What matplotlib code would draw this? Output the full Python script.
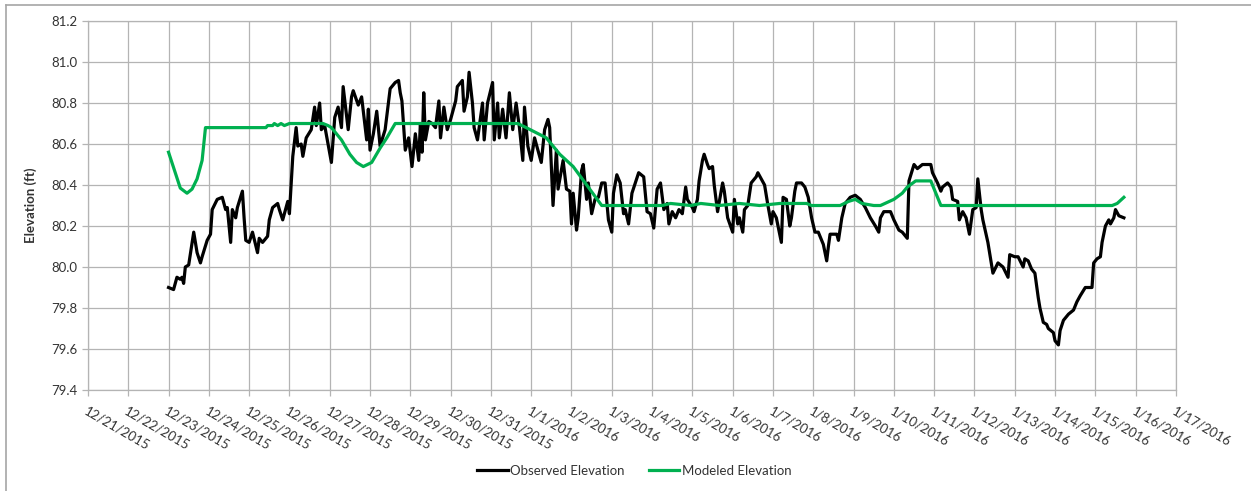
import numpy as np
import pandas as pd
import matplotlib
matplotlib.use("Agg")
import matplotlib.pyplot as plt
import matplotlib.dates as mdates
from matplotlib.ticker import FuncFormatter, MultipleLocator
from matplotlib.lines import Line2D

plt.rcParams['font.family'] = ['Lato', 'Liberation Sans', 'DejaVu Sans']

# hours after 12/23/2015 00:00
start = pd.Timestamp('2015-12-23 00:00')

obs_hours = [0, 3, 5, 7, 8, 9, 10, 12, 15, 17, 19, 20, 23, 25, 26, 29, 32, 34, 35, 37,
             38, 40, 41, 44, 45, 46, 48, 50, 53, 54, 56, 59, 60, 62, 65, 66, 68, 71, 72, 74,
             76, 77, 79, 80, 82, 85, 87, 88, 90, 91, 93, 95, 97, 99, 101, 103, 104, 107, 109, 110,
             113, 115, 118, 119, 120, 122, 124, 126, 129, 132, 135, 137, 138, 139, 141, 143, 145, 147, 149, 150,
             151, 152, 153, 155, 157, 159, 161, 162, 164, 166, 168, 171, 172, 175, 176, 178, 179, 181, 182, 184,
             187, 188, 190, 193, 194, 196, 197, 199, 201, 203, 205, 207, 209, 211, 212, 214, 216, 218, 220, 222,
             224, 226, 227, 229, 231, 232, 235, 237, 239, 240, 241, 243, 244, 246, 247, 249, 250, 252, 254, 256,
             258, 260, 262, 264, 265, 267, 269, 271, 272, 274, 276, 278, 280, 283, 285, 287, 289, 291, 293, 295,
             297, 298, 300, 302, 304, 306, 308, 309, 312, 313, 315, 316, 318, 319, 321, 322, 324, 325, 327, 330,
             331, 333, 336, 337, 339, 340, 342, 343, 345, 347, 350, 351, 353, 355, 357, 359, 360, 362, 365, 366,
             368, 370, 371, 373, 374, 377, 379, 381, 383, 385, 387, 389, 390, 392, 393, 394, 398, 399, 401, 403,
             406, 409, 412, 415, 418, 421, 423, 424, 426, 430, 432, 435, 437, 440, 441, 444, 446, 449, 454, 455,
             458, 460, 461, 464, 466, 467, 470, 471, 473, 475, 477, 479, 481, 482, 484, 485, 488, 491, 494, 497,
             500, 501, 504, 506, 509, 510, 512, 514, 516, 518, 519, 521, 523, 524, 527, 528, 530, 531, 533, 536,
             539, 541, 543, 546, 549, 550, 551, 553, 555, 556, 558, 560, 561, 563, 564, 566, 569]
obs_elev = [79.90, 79.89, 79.95, 79.94, 79.95, 79.92, 80.00, 80.01, 80.17, 80.07, 80.02, 80.05, 80.13, 80.16, 80.28, 80.33, 80.34, 80.28, 80.29, 80.12,
            80.28, 80.24, 80.29, 80.37, 80.24, 80.13, 80.12, 80.17, 80.07, 80.14, 80.12, 80.15, 80.23, 80.29, 80.31, 80.28, 80.23, 80.32, 80.26, 80.54,
            80.68, 80.59, 80.60, 80.54, 80.63, 80.67, 80.78, 80.69, 80.80, 80.67, 80.69, 80.60, 80.51, 80.73, 80.78, 80.68, 80.88, 80.67, 80.83, 80.86,
            80.79, 80.83, 80.62, 80.77, 80.57, 80.65, 80.76, 80.59, 80.67, 80.87, 80.90, 80.91, 80.85, 80.81, 80.57, 80.63, 80.49, 80.65, 80.52, 80.70,
            80.56, 80.85, 80.62, 80.71, 80.70, 80.68, 80.81, 80.63, 80.78, 80.67, 80.72, 80.81, 80.88, 80.91, 80.76, 80.83, 80.95, 80.80, 80.68, 80.62,
            80.80, 80.62, 80.80, 80.90, 80.62, 80.80, 80.63, 80.77, 80.63, 80.85, 80.67, 80.80, 80.68, 80.52, 80.78, 80.59, 80.52, 80.63, 80.57, 80.51,
            80.67, 80.72, 80.68, 80.30, 80.57, 80.38, 80.52, 80.38, 80.37, 80.21, 80.36, 80.18, 80.24, 80.47, 80.50, 80.33, 80.41, 80.26, 80.33, 80.34,
            80.41, 80.41, 80.23, 80.17, 80.36, 80.45, 80.41, 80.26, 80.28, 80.21, 80.36, 80.41, 80.46, 80.44, 80.27, 80.26, 80.19, 80.38, 80.41, 80.28,
            80.31, 80.21, 80.27, 80.24, 80.28, 80.26, 80.39, 80.33, 80.29, 80.27, 80.33, 80.42, 80.52, 80.55, 80.50, 80.48, 80.49, 80.40, 80.27, 80.41,
            80.37, 80.24, 80.17, 80.33, 80.21, 80.24, 80.17, 80.28, 80.30, 80.41, 80.44, 80.46, 80.43, 80.40, 80.30, 80.21, 80.27, 80.24, 80.12, 80.34,
            80.33, 80.20, 80.24, 80.37, 80.41, 80.41, 80.39, 80.34, 80.24, 80.17, 80.17, 80.13, 80.11, 80.03, 80.10, 80.16, 80.16, 80.13, 80.24, 80.31,
            80.34, 80.35, 80.33, 80.29, 80.24, 80.20, 80.17, 80.24, 80.27, 80.27, 80.23, 80.18, 80.17, 80.14, 80.42, 80.50, 80.48, 80.50, 80.50, 80.46,
            80.41, 80.37, 80.39, 80.41, 80.39, 80.33, 80.32, 80.23, 80.27, 80.24, 80.16, 80.28, 80.29, 80.43, 80.28, 80.23, 80.12, 79.97, 80.02, 80.00,
            79.95, 80.06, 80.05, 80.05, 80.00, 80.04, 80.03, 79.99, 79.97, 79.85, 79.80, 79.73, 79.72, 79.70, 79.68, 79.64, 79.62, 79.69, 79.74, 79.77,
            79.79, 79.83, 79.86, 79.90, 79.90, 79.90, 80.02, 80.04, 80.05, 80.12, 80.20, 80.23, 80.21, 80.24, 80.28, 80.25, 80.24]

mod_hours = [0, 4, 7, 11, 14, 17, 20, 22, 58, 59, 62, 63, 65, 67, 69, 72, 92, 95, 97, 103,
             108, 112, 116, 121, 126, 130, 135, 208, 213, 225, 233, 241, 258, 294, 299, 311, 317, 328, 340, 352,
             364, 380, 383, 400, 405, 409, 413, 420, 424, 432, 437, 440, 445, 454, 455, 458, 460, 562, 565, 569]
mod_elev = [80.56, 80.46, 80.385, 80.36, 80.38, 80.43, 80.52, 80.68, 80.68, 80.69, 80.69, 80.70, 80.69, 80.70, 80.69, 80.70, 80.70, 80.69, 80.68, 80.62,
            80.55, 80.51, 80.49, 80.51, 80.58, 80.63, 80.70, 80.70, 80.68, 80.63, 80.55, 80.49, 80.30, 80.30, 80.31, 80.30, 80.31, 80.30, 80.31, 80.30,
            80.31, 80.31, 80.30, 80.30, 80.32, 80.33, 80.31, 80.30, 80.30, 80.33, 80.36, 80.39, 80.42, 80.42, 80.40, 80.34, 80.30, 80.30, 80.31, 80.34]

obs_time = start + pd.to_timedelta(obs_hours, unit='h')
mod_time = start + pd.to_timedelta(mod_hours, unit='h')

fig = plt.figure(figsize=(12.51, 4.91), dpi=100)
ax = fig.add_axes([0.0703, 0.2057, 0.8697, 0.7515])

ax.plot(obs_time, obs_elev, color='black', lw=2.3, label='Observed Elevation', zorder=3)
ax.plot(mod_time, mod_elev, color='#00B050', lw=2.3, label='Modeled Elevation', zorder=4)

ax.set_xlim(pd.Timestamp('2015-12-21'), pd.Timestamp('2016-01-17'))
ax.set_ylim(79.4, 81.2)
ax.yaxis.set_major_locator(MultipleLocator(0.2))
ax.yaxis.set_major_formatter(FuncFormatter(lambda v, p: f"{v:.1f}"))
ax.xaxis.set_major_locator(mdates.DayLocator())
ax.xaxis.set_major_formatter(FuncFormatter(
    lambda v, p: (lambda d: f"{d.month}/{d.day}/{d.year}")(mdates.num2date(v))))

grid_c = '#b4b4b4'
ax.grid(True, color=grid_c, lw=0.9)
ax.set_axisbelow(True)
for s in ax.spines.values():
    s.set_color(grid_c)
    s.set_linewidth(0.9)
ax.tick_params(axis='both', color=grid_c, length=4, width=0.9, labelsize=9.5, labelcolor='#333333')
ax.tick_params(axis='x', pad=7)
for lab in ax.get_xticklabels():
    lab.set_rotation(-30)
    lab.set_ha('left')
    lab.set_va('top')
    lab.set_rotation_mode('anchor')

ax.set_ylabel('Elevation (ft)', fontsize=9.5, fontweight='bold', color='#333333', labelpad=10)

fig.legend(loc='center', bbox_to_anchor=(0.507, 0.041), ncol=2, frameon=False,
           fontsize=9.5, handlelength=2.3, handletextpad=0.2, columnspacing=1.8,
           labelcolor='#333333')

# outer chart frame (top and left edges visible)
fig.add_artist(Line2D([6 / 1251, 1], [1 - 5 / 491, 1 - 5 / 491], color='#a6a6a6', lw=1.2))
fig.add_artist(Line2D([6 / 1251, 6 / 1251], [0, 1 - 5 / 491], color='#a6a6a6', lw=1.2))

fig.savefig('out.png', dpi=100)
